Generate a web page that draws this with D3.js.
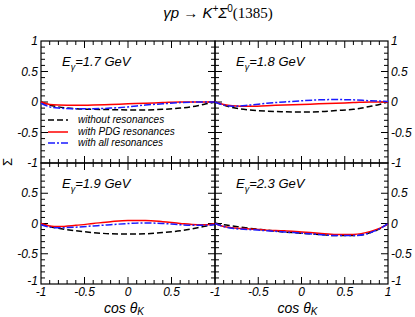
<!DOCTYPE html>
<html>
<head>
<meta charset="utf-8">
<script src="https://cdn.jsdelivr.net/npm/d3@7"></script>
<style>
  body { margin: 0; background: #fff; }
  text { font-family: "Liberation Sans", Arial, sans-serif; }
</style>
</head>
<body>
<div class="canvas"></div>
<script>
// cos(theta_K) sample points shared by every curve
const cosK = [-1, -0.9, -0.8, -0.6, -0.4, -0.2, 0, 0.2, 0.4, 0.6, 0.8, 0.9, 1]

const energies = ["1.7", "1.8", "1.9", "2.3"]

// Sigma values, one array per panel and model
const noRes = [
  [0, -0.05, -0.08, -0.11, -0.12, -0.125, -0.13, -0.13, -0.12, -0.1, -0.06, -0.03, 0],
  [0, -0.05, -0.09, -0.13, -0.15, -0.16, -0.165, -0.16, -0.14, -0.12, -0.07, -0.04, 0],
  [0, -0.05, -0.08, -0.12, -0.15, -0.17, -0.175, -0.17, -0.15, -0.12, -0.07, -0.04, -0.01],
  [0.01, -0.02, -0.04, -0.08, -0.11, -0.14, -0.16, -0.18, -0.2, -0.2, -0.15, -0.09, 0]
]
const pdgRes = [
  [0, -0.04, -0.05, -0.055, -0.05, -0.04, -0.03, -0.02, -0.01, 0, 0, 0, 0.005],
  [0, -0.04, -0.06, -0.07, -0.06, -0.05, -0.04, -0.03, -0.02, -0.01, 0, 0, 0],
  [0, -0.04, -0.05, -0.03, 0, 0.03, 0.05, 0.05, 0.03, 0, -0.02, -0.02, 0],
  [0, -0.05, -0.07, -0.09, -0.11, -0.12, -0.14, -0.16, -0.18, -0.18, -0.13, -0.08, -0.01]
]
const allRes = [
  [-0.02, -0.08, -0.1, -0.11, -0.11, -0.1, -0.08, -0.05, -0.03, -0.01, 0, 0, 0],
  [0, -0.05, -0.07, -0.05, -0.02, 0, 0.02, 0.035, 0.04, 0.035, 0.02, 0.015, 0.01],
  [-0.02, -0.06, -0.07, -0.06, -0.04, -0.02, 0, 0.01, 0, -0.02, -0.03, -0.03, -0.02],
  [0, -0.05, -0.08, -0.1, -0.12, -0.14, -0.16, -0.18, -0.2, -0.2, -0.15, -0.09, 0]
]

const seriesNames = ["without resonances", "with PDG resonances", "with all resonances"]
const seriesData = [noRes, pdgRes, allRes]
const styles = [
  { stroke: "#000", dash: "6,3" },
  { stroke: "#ff0000", dash: null },
  { stroke: "#1a1aff", dash: "7,2,2,2" }
]

/**
 * Layout
 */
const W = 415, H = 317
const xs = [41, 215, 388]
const ys = [41, 163, 284]

const svg = d3.select(".canvas").append("svg")
  .attr("width", W).attr("height", H)

const panels = [
  { col: 0, row: 0 }, { col: 1, row: 0 },
  { col: 0, row: 1 }, { col: 1, row: 1 }
]

const line = d3.line().curve(d3.curveMonotoneX)

panels.forEach((p, i) => {
  const x = d3.scaleLinear().domain([-1, 1]).range([xs[p.col], xs[p.col + 1]])
  const y = d3.scaleLinear().domain([-1, 1]).range([ys[p.row + 1], ys[p.row]])
  const g = svg.append("g")

  // frame
  g.append("rect")
    .attr("x", x(-1)).attr("y", y(1))
    .attr("width", x(1) - x(-1)).attr("height", y(-1) - y(1))
    .attr("fill", "none").attr("stroke", "#000").attr("stroke-width", 1.2)

  // inward ticks on all sides
  const tv = d3.range(-10, 11).map(d => d / 10).filter(d => d > -1 && d < 1)
  tv.forEach(v => {
    const major = Math.abs(v * 2 - Math.round(v * 2)) < 1e-6
    const len = major ? 7 : 4
    g.append("line").attr("x1", x(v)).attr("x2", x(v)).attr("y1", y(-1)).attr("y2", y(-1) - len)
    g.append("line").attr("x1", x(v)).attr("x2", x(v)).attr("y1", y(1)).attr("y2", y(1) + len)
    g.append("line").attr("y1", y(v)).attr("y2", y(v)).attr("x1", x(-1)).attr("x2", x(-1) + len)
    g.append("line").attr("y1", y(v)).attr("y2", y(v)).attr("x1", x(1)).attr("x2", x(1) - len)
  })
  g.selectAll("line").attr("stroke", "#000").attr("stroke-width", 1)

  // y tick labels
  const yl = p.row === 0 ? [1, 0.5, 0, -0.5, -1] : [0.5, 0, -0.5, -1]
  g.selectAll(".ylab").data(yl).enter().append("text")
    .attr("x", p.col === 0 ? x(-1) - 3 : x(1) + 3)
    .attr("y", d => y(d) + (d === -1 && p.row === 1 ? 1 : 4))
    .attr("text-anchor", p.col === 0 ? "end" : "start")
    .attr("font-size", 12).attr("font-style", "italic")
    .text(d => d)

  // x tick labels
  if (p.row === 1) {
    const xl = p.col === 0 ? [-1, -0.5, 0, 0.5] : [-1, -0.5, 0, 0.5, 1]
    g.selectAll(".xlab").data(xl).enter().append("text")
      .attr("x", d => x(d)).attr("y", 296)
      .attr("text-anchor", "middle")
      .attr("font-size", 12).attr("font-style", "italic")
      .text(d => d)

    const t = g.append("text")
      .attr("x", (x(-1) + x(1)) / 2 - 4).attr("y", 313)
      .attr("text-anchor", "middle")
      .attr("font-size", 14).attr("font-style", "italic")
    t.append("tspan").text("cos θ")
    t.append("tspan").attr("font-size", 10).attr("dy", 2).text("K")
  }

  // energy label
  const e = g.append("text")
    .attr("x", x(-1) + 21).attr("y", y(1) + 25)
    .attr("font-size", 13).attr("font-style", "italic")
  e.append("tspan").text("E")
  e.append("tspan").attr("font-size", 9).attr("dy", 4).text("γ")
  e.append("tspan").attr("dy", -4).text("=" + energies[i] + " GeV")

  // curves
  seriesData.forEach((s, k) => {
    g.append("path")
      .attr("d", line(cosK.map((c, j) => [x(c), y(s[i][j])])))
      .attr("fill", "none")
      .attr("stroke", styles[k].stroke)
      .attr("stroke-width", 1.5)
      .attr("stroke-dasharray", styles[k].dash)
  })

  // legend in first panel
  if (i === 0) {
    seriesNames.forEach((n, k) => {
      const ly = [123, 135, 146][k]
      g.append("line")
        .attr("x1", 48).attr("x2", 68).attr("y1", ly - 3).attr("y2", ly - 3)
        .attr("stroke", styles[k].stroke).attr("stroke-width", 1.5)
        .attr("stroke-dasharray", styles[k].dash)
      g.append("text").attr("x", 78).attr("y", ly)
        .attr("font-size", 10).attr("font-style", "italic")
        .text(n)
    })
  }
})

// title
const title = svg.append("text").attr("x", 218).attr("y", 18)
  .attr("text-anchor", "middle").attr("font-size", 15)
title.append("tspan").attr("font-style", "italic").text("γp → K")
title.append("tspan").attr("font-size", 10).attr("dy", -6).attr("font-style", "italic").text("+")
title.append("tspan").attr("dy", 6).attr("font-style", "italic").text("Σ")
title.append("tspan").attr("font-size", 10).attr("dy", -6).text("0")
title.append("tspan").attr("dy", 6).attr("font-family", "Liberation Serif, serif").text("(1385)")

// y axis label
svg.append("text")
  .attr("transform", "translate(12,162) rotate(-90)")
  .attr("text-anchor", "middle")
  .attr("font-size", 13)
  .text("Σ")
</script>
</body>
</html>
